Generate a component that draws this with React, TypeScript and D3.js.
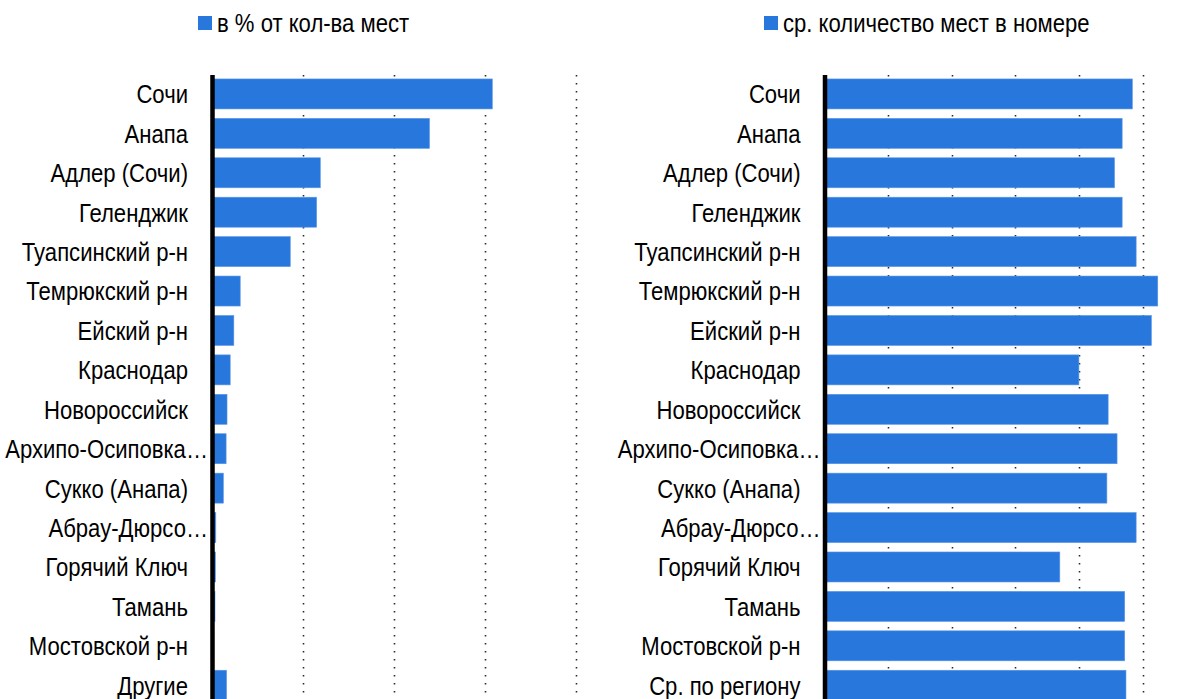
import React from "react";
import * as d3 from "d3";

const leftCategories = [
  "Сочи", "Анапа", "Адлер (Сочи)", "Геленджик", "Туапсинский р-н", "Темрюкский р-н",
  "Ейский р-н", "Краснодар", "Новороссийск", "Архипо-Осиповка…", "Сукко (Анапа)",
  "Абрау-Дюрсо…", "Горячий Ключ", "Тамань", "Мостовской р-н", "Другие",
];
const leftValues = [30.8, 23.9, 11.9, 11.5, 8.6, 3.1, 2.4, 2.0, 1.65, 1.55, 1.25, 0.42, 0.38, 0.33, 0.2, 1.6];
const leftTicks = [10, 20, 30, 40];
const leftLegend = "в % от кол-ва мест";

const rightCategories = [
  "Сочи", "Анапа", "Адлер (Сочи)", "Геленджик", "Туапсинский р-н", "Темрюкский р-н",
  "Ейский р-н", "Краснодар", "Новороссийск", "Архипо-Осиповка…", "Сукко (Анапа)",
  "Абрау-Дюрсо…", "Горячий Ключ", "Тамань", "Мостовской р-н", "Ср. по региону",
];
const rightValues = [2.42, 2.34, 2.28, 2.34, 2.45, 2.62, 2.57, 2.0, 2.23, 2.3, 2.22, 2.45, 1.85, 2.36, 2.36, 2.37];
const rightTicks = [0.5, 1, 1.5, 2, 2.5];
const rightLegend = "ср. количество мест в номере";

const W = 1198;
const H = 699;
const BAR = "#2877dd";
const FONT = "'Liberation Sans', Arial, sans-serif";
const FS = 26;
const NARROW = 0.85;

function NText({ x, y, anchor, children }: { x: number; y: number; anchor: "start" | "end"; children: string }) {
  return (
    <g transform={`translate(${x},${y}) scale(${NARROW},1)`}>
      <text x={0} y={0} dy="0.36em" textAnchor={anchor} fontSize={FS} fontFamily={FONT} fill="#000">
        {children}
      </text>
    </g>
  );
}

type PanelProps = {
  cats: string[];
  vals: number[];
  ticks: number[];
  legend: string;
  domainMax: number;
  x0: number;
  x1: number;
  legendX: number;
};

function Panel({ cats, vals, ticks, legend, domainMax, x0, x1, legendX }: PanelProps) {
  const top = 75;
  const step = 39.42;
  const y = d3
    .scaleBand<string>()
    .domain(cats)
    .range([top, top + step * (cats.length - 0.239 + 0.2)])
    .paddingInner(0.239)
    .paddingOuter(0.1);
  const x = d3.scaleLinear().domain([0, domainMax]).range([x0, x1]);
  const bottom = H + 10;
  return (
    <g>
      <rect x={legendX} y={16} width={14} height={14} fill={BAR} />
      <NText x={legendX + 19} y={23} anchor="start">{legend}</NText>
      {ticks.map((t) => (
        <line
          key={t}
          x1={Math.round(x(t)) + 0.5}
          x2={Math.round(x(t)) + 0.5}
          y1={top}
          y2={bottom}
          stroke="#2a2a2a"
          strokeWidth={1.6}
          strokeDasharray="1.6 6.4"
        />
      ))}
      {cats.map((c, i) => (
        <rect
          key={c}
          x={x(0)}
          y={y(c)!}
          width={Math.max(0, x(vals[i]) - x(0))}
          height={y.bandwidth()}
          fill={BAR}
          stroke="#5b97e6"
          strokeWidth={0.6}
        />
      ))}
      {cats.map((c) => {
        const ell = c.endsWith("…");
        return (
          <NText key={"l" + c} x={ell ? x0 - 4 : x0 - 24} y={y(c)! + y.bandwidth() / 2} anchor="end">
            {c}
          </NText>
        );
      })}
      <line x1={x0 + 0.5} x2={x0 + 0.5} y1={top} y2={bottom} stroke="#000" strokeWidth={4.5} />
    </g>
  );
}

export default function App() {
  return (
    <svg
      width={W}
      height={H}
      style={{ position: "absolute", left: 0, top: 0, background: "#fff" }}
    >
      <Panel
        cats={leftCategories}
        vals={leftValues}
        ticks={leftTicks}
        legend={leftLegend}
        domainMax={40}
        x0={212}
        x1={576}
        legendX={198}
      />
      <Panel
        cats={rightCategories}
        vals={rightValues}
        ticks={rightTicks}
        legend={rightLegend}
        domainMax={2.5}
        x0={824.5}
        x1={1142.5}
        legendX={764}
      />
    </svg>
  );
}
